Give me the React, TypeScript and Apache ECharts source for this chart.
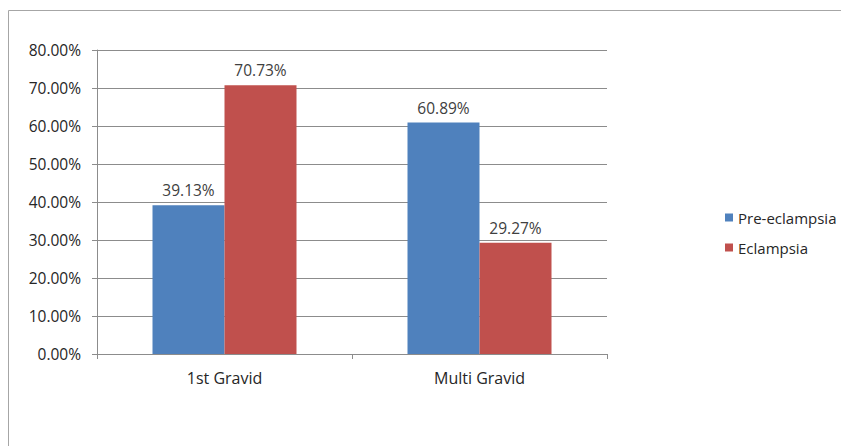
import React, { useEffect, useRef } from "react";
import * as echarts from "echarts";

const categories = ["1st Gravid", "Multi Gravid"];
const preEclampsia = [39.13, 60.89];
const eclampsia = [70.73, 29.27];
const seriesNames = ["Pre-eclampsia", "Eclampsia"];

export default function App() {
  const ref = useRef<HTMLDivElement>(null);
  useEffect(() => {
    if (!ref.current) return;
    const chart = echarts.init(ref.current, null, { renderer: "svg" });
    const font = "'Open Sans', 'Liberation Sans', sans-serif";
    const labelStyle = {
      show: true,
      position: "top",
      distance: 7,
      color: "#404040",
      fontSize: 15.5,
      fontFamily: font,
      formatter: (p: any) => p.value.toFixed(2) + "%",
    };
    chart.setOption({
      animation: false,
      backgroundColor: "#ffffff",
      graphic: [
        {
          type: "rect",
          shape: { x: 8.5, y: 10.5, width: 900, height: 500 },
          style: { fill: "none", stroke: "#a6a6a6", lineWidth: 1 },
          silent: true,
        },
      ],
      grid: { left: 97, top: 50, right: 234, bottom: 92 },
      legend: {
        orient: "vertical",
        left: 720,
        top: 205,
        itemWidth: 8,
        itemHeight: 8,
        itemGap: 15,
        icon: "rect",
        textStyle: { color: "#262626", fontSize: 15, fontFamily: font },
        data: seriesNames,
      },
      xAxis: {
        type: "category",
        data: categories,
        axisLine: { show: true, lineStyle: { color: "#8c8c8c" } },
        axisTick: { show: true, length: 5, lineStyle: { color: "#8c8c8c" } },
        axisLabel: { color: "#262626", fontSize: 16, fontFamily: font, margin: 16 },
      },
      yAxis: {
        type: "value",
        min: 0,
        max: 80,
        interval: 10,
        axisLine: { show: true, lineStyle: { color: "#8c8c8c" } },
        axisTick: { show: true, length: 5, lineStyle: { color: "#8c8c8c" } },
        splitLine: { lineStyle: { color: "#8c8c8c" } },
        axisLabel: {
          color: "#262626",
          fontSize: 15.5,
          fontFamily: font,
          margin: 16,
          formatter: (v: number) => v.toFixed(2) + "%",
        },
      },
      series: [
        {
          name: seriesNames[0],
          type: "bar",
          data: preEclampsia,
          barWidth: 72,
          barGap: "0%",
          itemStyle: { color: "#4f81bd" },
          label: labelStyle,
        },
        {
          name: seriesNames[1],
          type: "bar",
          data: eclampsia,
          barWidth: 72,
          barGap: "0%",
          itemStyle: { color: "#c0504d" },
          label: labelStyle,
        },
      ],
    });
    return () => chart.dispose();
  }, []);
  return <div ref={ref} style={{ width: 841, height: 446, position: "absolute", left: 0, top: 0 }} />;
}
